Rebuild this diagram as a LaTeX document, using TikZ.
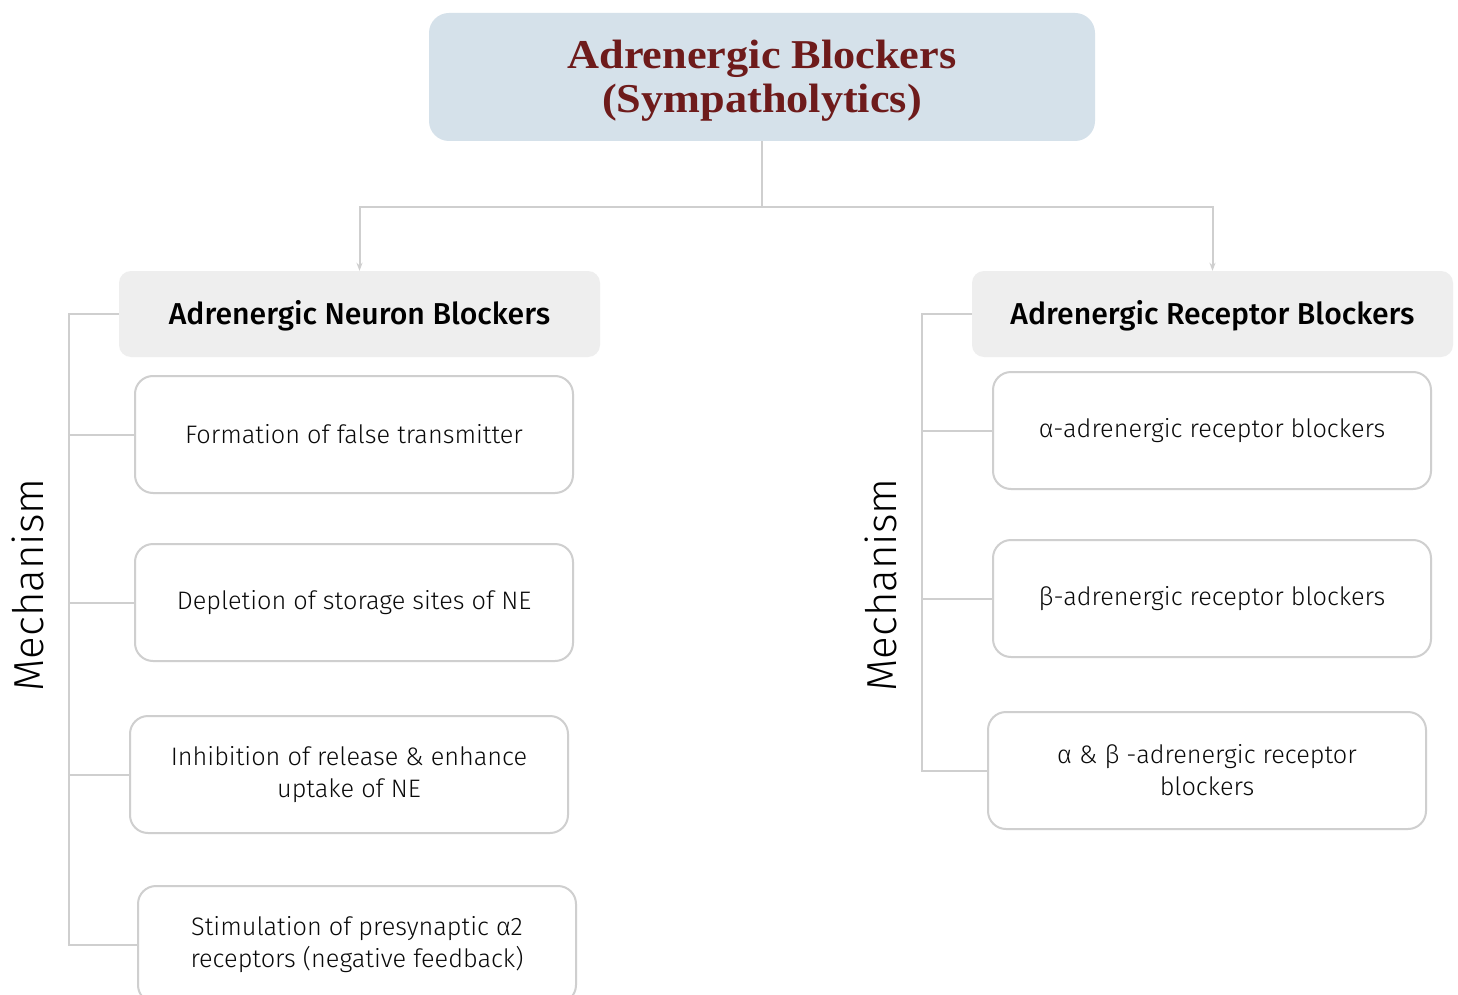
\documentclass[tikz,border=0pt]{standalone}
\usepackage{fontspec}
\usetikzlibrary{arrows.meta}
\setmainfont{Fira Sans Light}
\newfontfamily\headfont{Fira Sans Medium}
\newfontfamily\titlefont{Liberation Serif}[FakeStretch=1.08]
\definecolor{titlebg}{HTML}{D5E1EA}
\definecolor{titlefg}{HTML}{6E1B1B}
\definecolor{headbg}{HTML}{EEEEEE}
\definecolor{linegray}{HTML}{CFCFCF}
\definecolor{txt}{HTML}{0A0A0A}
\tikzset{
  titlebox/.style={fill=titlebg, rounded corners=20pt, minimum width=666pt, minimum height=128pt, inner sep=0pt},
  titletext/.style={inner sep=0pt, align=center, text=titlefg, font=\titlefont\bfseries\fontsize{41}{44}\selectfont},
  headbox/.style={fill=headbg, rounded corners=12pt, minimum width=481pt, minimum height=86pt, inner sep=0pt, text=black, text height=21pt, text depth=0pt, font=\headfont\fontsize{30.2}{34}\selectfont},
  itembox/.style={draw=linegray, line width=2pt, fill=white, rounded corners=18pt, minimum width=438pt, minimum height=117pt, inner sep=0pt, align=center, text=txt, font=\fontsize{25.3}{32}\selectfont},
  conn/.style={draw=linegray, line width=2pt},
  tipd/.style={-{Stealth[length=8pt,width=6pt]}},
  mech/.style={rotate=90, text=black, font=\fontsize{42}{48}\selectfont, inner sep=0pt}
}
\begin{document}
\begin{tikzpicture}[x=1pt,y=-1pt]
\useasboundingbox[fill=white] (0,0) rectangle (1458,995);
% title
\node[titlebox] (title) at (762,77) {};
\node[titletext] (tt) at (762,81) {Adrenergic Blockers\\(Sympatholytics)};
% headers
\node[headbox] (lh) at (359.5,314) {Adrenergic Neuron Blockers};
\node[headbox] (rh) at (1212.5,314) {Adrenergic Receptor Blockers};
% connectors from title
\coordinate (j) at (762,207);
\draw[conn,tipd] (title.south) -- (j) -| (lh.north);
\draw[conn,tipd] (j) -| (rh.north);
% left items
\node[itembox] (l1) at (354,434.5) {Formation of false transmitter};
\node[itembox] (l2) at (354,602.5) {Depletion of storage sites of NE};
\node[itembox] (l3) at (349,774.5) {Inhibition of release \& enhance\\uptake of NE};
\node[itembox] (l4) at (357,944.5) {Stimulation of presynaptic α2\\receptors (negative feedback)};
% right items
\node[itembox] (r1) at (1212,430.5) {α-adrenergic receptor blockers};
\node[itembox] (r2) at (1212,598.5) {β-adrenergic receptor blockers};
\node[itembox] (r3) at (1207,770.5) {α \& β -adrenergic receptor\\blockers};
% brackets
\coordinate (lb) at (69,314);
\coordinate (rb) at (922,314);
\draw[conn] (lh.west) -- (lb) |- (l4.west);
\draw[conn] (l1.west) -- (l1.west -| lb);
\draw[conn] (l2.west) -- (l2.west -| lb);
\draw[conn] (l3.west) -- (l3.west -| lb);
\draw[conn] (rh.west) -- (rb) |- (r3.west);
\draw[conn] (r1.west) -- (r1.west -| rb);
\draw[conn] (r2.west) -- (r2.west -| rb);
% mechanism labels
\node[mech] (ml) at (28,585) {Mechanism};
\node[mech] (mr) at (881,585) {Mechanism};
\end{tikzpicture}
\end{document}
